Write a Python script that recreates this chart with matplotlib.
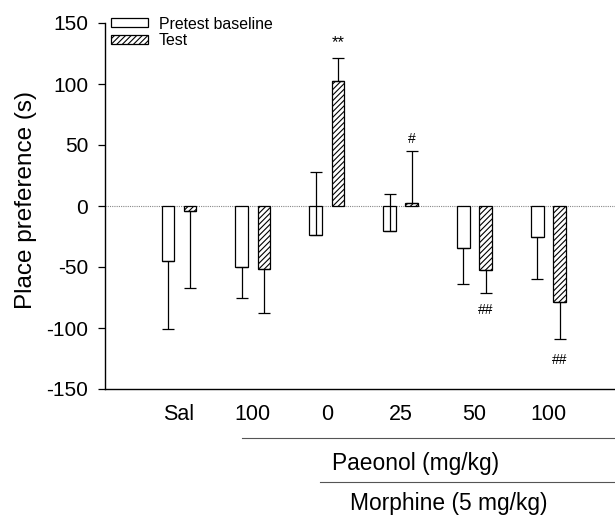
import matplotlib
matplotlib.use("Agg")
import matplotlib.pyplot as plt
import numpy as np

plt.rcParams['font.family'] = ['Liberation Sans', 'DejaVu Sans']
plt.rcParams['hatch.linewidth'] = 0.8

groups = ["Sal", "100", "0", "25", "50", "100"]
pretest = [-45, -50, -24, -20.5, -34.5, -25.5]
pretest_se = [56, 25, 52, 30.5, 29.5, 34.5]
pretest_dir = [-1, -1, 1, 1, -1, -1]
test = [-4, -52, 102.5, 2.5, -52.5, -79]
test_se = [63, 36, 18.5, 42.5, 18.5, 30]
test_dir = [-1, -1, 1, 1, -1, -1]
marks = [(2, "**", 134, 12), (3, "#", 55, 10), (4, "##", -85, 10), (5, "##", -126, 10)]

fig = plt.figure(figsize=(6.15, 5.17), dpi=100)
ax = fig.add_axes([105/615, 1-389/517, 1-105/615, (389-23)/517])

x = np.arange(1, len(groups) + 1)
w = 0.17
off = 0.15

def err(se, d):
    lo = [s if dd < 0 else 0 for s, dd in zip(se, d)]
    hi = [s if dd > 0 else 0 for s, dd in zip(se, d)]
    return [lo, hi]

ax.axhline(0, color='#888888', lw=0.8, ls=(0, (1, 1)), zorder=1)
ax.bar(x - off, pretest, w, color='white', edgecolor='black', lw=0.9, zorder=2,
       label='Pretest baseline')
ax.bar(x + off, test, w, color='white', edgecolor='black', lw=0.9, hatch='//////',
       zorder=2, label='Test')
ax.errorbar(x - off, pretest, yerr=err(pretest_se, pretest_dir), fmt='none',
            ecolor='black', elinewidth=0.9, capsize=4, capthick=0.9, zorder=3)
ax.errorbar(x + off, test, yerr=err(test_se, test_dir), fmt='none',
            ecolor='black', elinewidth=0.9, capsize=4, capthick=0.9, zorder=3)

for i, t, yv, fs in marks:
    ax.text(x[i] + off, yv, t, ha='center', va='center', fontsize=fs)

ax.set_xlim(0, 6.9)
ax.set_ylim(-150, 150)
ax.set_yticks([-150, -100, -50, 0, 50, 100, 150])
ax.set_yticklabels(['-150', '-100', '-50', '0', '50', '100', '150'])
ax.set_xticks(x)
ax.set_xticklabels(groups)
ax.tick_params(axis='x', length=0, labelsize=15.5, pad=11)
ax.tick_params(axis='y', length=5, labelsize=15, direction='out', width=0.9, pad=7)
ax.spines['top'].set_visible(False)
ax.spines['right'].set_visible(False)
ax.spines['left'].set_linewidth(1.0)
ax.spines['bottom'].set_linewidth(1.0)
ax.set_ylabel('Place preference (s)', fontsize=17.5)
ax.yaxis.set_label_coords(-0.133, 0.516)

leg = ax.legend(loc='upper left', bbox_to_anchor=(0.0, 1.035), frameon=False,
                fontsize=11.4, handlelength=2.3, handleheight=0.5,
                labelspacing=0.1, handletextpad=0.7, borderaxespad=0.2,
                borderpad=0.2)

# group lines and labels below axis
fig.add_artist(plt.Line2D([242/615, 1.0], [1-438/517, 1-438/517], color='#555555', lw=0.8))
fig.text(416/615, 1-470/517, 'Paeonol (mg/kg)', ha='center', va='baseline', fontsize=16.4)
fig.add_artist(plt.Line2D([320/615, 1.0], [1-482/517, 1-482/517], color='#555555', lw=0.8))
fig.text(449/615, 2/517, 'Morphine (5 mg/kg)', ha='center', va='bottom', fontsize=16.4)

fig.savefig('out.png', dpi=100)
